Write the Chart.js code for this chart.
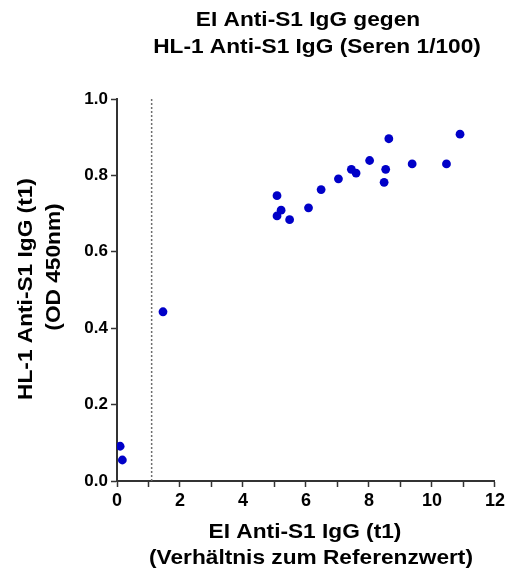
<!DOCTYPE html>
<html>
<head>
<meta charset="utf-8">
<script src="https://cdn.jsdelivr.net/npm/chart.js@4/dist/chart.umd.min.js"></script>
<style>
	html, body { margin: 0; padding: 0; background: #fff; }
	#wrap { width: 508px; height: 574px; }
</style>
</head>
<body>
<div id="wrap"><canvas id="canvas" width="508" height="574"></canvas></div>
<script>
// values
const eiValues = [5.08, 5.21, 5.08, 5.48, 6.08, 6.48, 7.03, 7.44, 7.59, 8.02, 8.63, 8.53, 8.48, 9.37, 10.46, 10.89, 1.46, 0.10, 0.17];
const hlValues = [0.747, 0.709, 0.694, 0.684, 0.715, 0.763, 0.791, 0.816, 0.806, 0.839, 0.896, 0.816, 0.782, 0.830, 0.830, 0.908, 0.443, 0.091, 0.055];
const cutoffX = 1.1;
const cutoffY = [0, 1];
const xTickLabels = [0, 2, 4, 6, 8, 10, 12];
const yTickLabels = ["0.0", "0.2", "0.4", "0.6", "0.8", "1.0"];

const titleLines = ["EI Anti-S1 IgG gegen", "HL-1 Anti-S1 IgG (Seren 1/100)"];
const xTitleLines = ["EI Anti-S1 IgG (t1)", "(Verhältnis zum Referenzwert)"];
const yTitleLines = ["HL-1 Anti-S1 IgG (t1)", "(OD 450nm)"];

const FONT = "'Liberation Sans', Arial, sans-serif";
const STRETCH = 1.08;

// draws the titles with a slight horizontal stretch like the reference
const textPlugin = {
	id: "texts",
	afterDraw(chart) {
		const ctx = chart.ctx;
		const put = (text, x, y, rot) => {
			ctx.save();
			ctx.translate(x, y);
			if (rot) ctx.rotate(-Math.PI / 2);
			ctx.scale(STRETCH, 1);
			ctx.fillText(text, 0, 0);
			ctx.restore();
		};
		ctx.save();
		ctx.fillStyle = "#000";
		ctx.font = "bold 21px " + FONT;
		ctx.textAlign = "center";
		ctx.textBaseline = "alphabetic";
		put(titleLines[0], 308, 25.5);
		put(titleLines[1], 317, 52.5);
		put(xTitleLines[0], 305, 537.5);
		put(xTitleLines[1], 311, 563.5);
		put(yTitleLines[0], 31.5, 289, true);
		put(yTitleLines[1], 59.5, 267, true);
		ctx.restore();
	},
};

window.onload = () => {
	const canvas = document.getElementById("canvas").getContext("2d");

	const points = eiValues.map((x, i) => ({ x: x, y: hlValues[i] }));
	const cutoff = cutoffY.map((y) => ({ x: cutoffX, y: y }));

	const config = {
		type: "scatter",
		data: {
			datasets: [{
				type: "line",
				data: cutoff,
				borderColor: "#6e6e6e",
				borderWidth: 1.5,
				borderDash: [2, 2],
				pointRadius: 0,
				fill: false,
			}, {
				data: points,
				backgroundColor: "#0000c8",
				borderWidth: 0,
				pointRadius: 4.4,
			}],
		},
		options: {
			responsive: false,
			animation: false,
			layout: {
				padding: { top: 99, right: 11, left: 0, bottom: 0 },
			},
			plugins: {
				legend: { display: false },
				tooltip: { enabled: false },
			},
			scales: {
				x: {
					type: "linear",
					min: 0,
					max: 12,
					afterFit: (scale) => { scale.height = 93; },
					grid: { drawOnChartArea: false, drawTicks: true, tickLength: 6, tickWidth: 1.5, tickColor: "#333" },
					border: { display: true, width: 2, color: "#333" },
					ticks: {
						stepSize: 1,
						autoSkip: false,
						maxRotation: 0,
						padding: 3,
						color: "#000",
						font: { family: FONT, size: 18, weight: "bold" },
						callback: (v) => xTickLabels.includes(v) ? String(v) : "",
					},
				},
				y: {
					type: "linear",
					min: 0,
					max: 1,
					afterFit: (scale) => { scale.width = 117; },
					grid: { drawOnChartArea: false, drawTicks: true, tickLength: 6, tickWidth: 1.5, tickColor: "#333" },
					border: { display: true, width: 2, color: "#333" },
					ticks: {
						stepSize: 0.2,
						padding: 3,
						color: "#000",
						font: { family: FONT, size: 17, weight: "bold" },
						callback: (v) => yTickLabels[Math.round(v / 0.2)],
					},
				},
			},
		},
		plugins: [textPlugin],
	};

	const chart = new Chart(canvas, config);
};
</script>
</body>
</html>
